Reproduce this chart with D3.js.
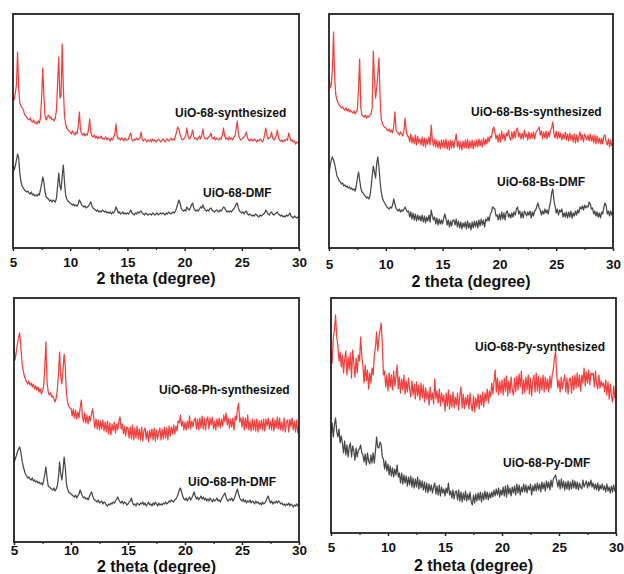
<!DOCTYPE html>
<html><head><meta charset="utf-8">
<script src="https://cdn.jsdelivr.net/npm/d3@7"></script>
<style>body{margin:0;background:#fff}svg{display:block}</style>
</head><body>
<svg id="chart" width="624" height="574"></svg>
<script>
// ---------- data (intensity, a.u., sampled every 0.1 degree from 5 to 30) ----------
const thetaStart = 5, thetaStep = 0.1;
const xTicks = [5, 10, 15, 20, 25, 30];
const xMinorTicks = [7.5, 12.5, 17.5, 22.5, 27.5];
const xTitle = "2 theta (degree)";

const uio68Syn = [
151,148,155,163,196,158,145,142,140,138,
134,132,131,129,128,130,127,126,128,125,
126,124,127,125,130,150,180,152,132,128,
131,133,130,131,128,129,127,130,138,165,
191,150,152,204,160,132,124,120,118,117,
116,114,117,115,113,116,114,122,136,118,
114,113,115,112,114,113,118,129,116,112,
111,113,110,112,109,111,110,112,109,110,
109,111,108,110,109,107,110,108,111,114,
124,112,109,110,108,110,109,107,110,108,
108,109,113,115,108,107,109,108,110,108,
109,110,116,108,107,109,108,106,108,107,
108,106,109,107,108,106,107,109,108,106,
107,109,108,106,108,109,107,108,110,108,
109,108,112,116,121,119,114,110,108,109,
110,112,120,112,109,110,113,118,111,109,
110,108,110,112,109,113,119,111,109,110,
109,111,112,115,110,109,111,108,110,109,
108,110,109,113,120,112,109,110,108,111,
109,110,108,111,112,118,127,114,110,108,
109,110,111,113,116,110,108,107,109,108,
107,109,108,106,108,107,109,108,106,108,
114,120,113,109,110,111,116,110,108,110,
112,118,111,108,107,108,106,108,107,109,
108,115,111,107,108,106,107,104,106,105,
105];
const uio68Dmf = [
83,78,82,88,94,90,74,66,62,60,
58,57,56,57,55,54,56,53,54,52,
53,52,54,53,58,64,71,66,56,51,
50,49,47,48,46,48,47,46,50,62,
75,62,58,72,83,66,53,49,47,46,
45,44,43,44,42,43,42,44,48,46,
43,42,41,42,40,41,42,44,46,42,
40,39,38,37,38,36,37,36,38,37,
36,37,35,36,35,36,34,36,35,37,
41,39,35,36,34,35,36,34,35,34,
35,34,36,38,35,34,33,35,34,36,
35,36,37,35,34,33,35,34,33,34,
34,33,35,34,33,34,35,33,34,35,
34,35,34,33,35,34,36,35,34,35,
36,35,37,40,44,48,45,40,38,37,
38,37,41,39,38,40,43,45,40,38,
37,38,37,39,41,40,43,40,38,37,
38,37,39,40,38,37,36,37,38,37,
36,38,37,39,41,40,38,36,37,36,
37,36,38,39,41,44,45,40,37,36,
35,36,34,36,37,34,33,34,33,32,
33,32,34,33,32,31,33,32,33,34,
35,38,36,34,33,35,36,34,33,34,
35,36,34,33,32,33,31,32,31,33,
32,33,35,32,31,30,32,31,30,31,
31];
const bsSyn = [
171,160,163,180,216,170,153,148,145,143,
142,140,141,139,138,140,137,139,136,138,
136,135,137,134,136,138,160,189,140,133,
132,131,133,130,132,131,133,134,140,197,
170,150,160,175,190,150,128,125,122,121,
120,118,117,119,116,118,115,122,136,118,
116,115,113,116,114,112,118,130,117,112,
112,106,114,105,111,104,113,103,112,105,
109,103,111,102,110,101,109,104,111,103,
123,108,102,109,101,108,100,107,99,108,
101,108,100,109,99,107,98,108,100,107,
100,108,114,101,107,99,106,98,107,100,
108,100,109,99,107,100,108,99,107,101,
108,101,109,102,108,101,110,103,109,104,
111,106,112,110,118,121,116,109,113,106,
114,106,117,109,114,107,115,112,118,110,
108,116,109,117,110,118,120,111,115,109,
115,109,118,111,114,108,116,109,115,110,
116,109,115,117,119,121,113,117,109,116,
110,117,109,116,111,118,120,126,114,110,
117,109,116,110,115,108,114,109,116,108,
114,107,115,108,113,106,114,105,113,106,
112,116,108,113,106,114,111,108,113,107,
114,107,112,105,113,104,112,105,110,104,
110,104,112,113,106,103,109,101,108,102,
105];
const bsDmf = [
75,82,88,91,88,84,78,72,70,67,
66,64,65,62,63,61,62,60,61,59,
60,58,59,57,62,70,76,68,60,56,
55,53,52,50,51,49,52,60,72,82,
76,70,85,91,80,66,56,50,47,45,
43,41,40,39,41,40,43,49,44,40,
38,37,39,36,38,37,39,41,38,36,
37,31,36,29,35,28,34,27,33,28,
32,27,33,26,32,25,31,27,33,26,
38,32,28,31,24,30,23,29,24,28,
24,30,34,29,23,28,21,27,22,28,
28,23,29,21,27,20,26,19,25,21,
26,19,27,20,25,18,26,20,27,21,
27,20,28,22,29,23,28,21,29,27,
31,27,34,36,41,40,39,32,33,28,
34,28,36,29,35,28,36,37,31,34,
30,35,31,36,33,39,41,34,37,30,
36,30,37,35,32,36,33,37,30,36,
32,37,38,42,45,40,38,33,37,34,
39,35,38,34,41,46,55,59,48,42,
35,39,33,38,36,39,31,35,31,36,
30,36,31,37,30,35,32,37,33,38,
35,41,39,42,38,43,40,42,41,46,
44,39,40,34,37,32,36,31,35,30,
36,34,41,45,42,34,37,32,37,33,
36];
const phSyn = [
195,182,190,198,205,209,195,180,172,166,
163,160,158,161,157,159,155,158,153,156,
152,155,150,153,148,151,156,175,200,160,
150,147,149,145,146,143,140,144,152,168,
190,165,158,172,188,175,148,140,136,134,
134,126,133,124,132,123,130,124,134,142,
126,120,129,119,127,118,126,121,128,133,
124,114,123,113,122,112,121,113,122,111,
120,110,121,108,119,107,118,111,120,109,
118,112,121,125,113,118,108,116,106,115,
114,104,115,103,117,102,114,104,116,103,
113,102,115,101,112,114,103,111,100,112,
104,113,102,114,101,112,103,110,114,102,
113,103,115,104,114,102,116,106,115,108,
117,108,116,111,121,119,127,116,121,112,
120,112,121,114,126,113,121,115,122,124,
113,123,112,124,114,126,113,124,112,122,
125,113,124,117,125,113,121,112,123,115,
124,114,123,116,127,120,129,117,124,114,
123,115,124,112,126,122,133,139,120,124,
115,125,112,124,114,127,112,121,111,123,
112,122,111,123,110,121,113,122,112,123,
111,123,116,124,113,121,112,124,111,122,
114,125,113,124,112,120,111,124,110,120,
122,110,123,115,124,112,121,110,122,109,
114];
const phDmf = [
79,83,86,90,93,95,90,82,76,72,
68,66,64,65,63,62,64,61,62,60,
61,59,60,58,59,57,61,68,75,64,
56,55,54,53,52,54,51,53,56,65,
80,68,62,72,85,74,58,53,50,49,
48,47,46,45,47,44,46,48,52,49,
46,44,45,43,44,42,45,48,50,46,
43,42,41,40,42,39,40,41,38,40,
39,37,36,38,37,39,38,40,39,41,
43,45,42,40,39,41,38,40,39,37,
38,40,41,44,39,37,38,36,39,38,
37,39,38,40,37,39,36,38,40,37,
38,36,39,37,40,38,36,39,37,38,
37,39,38,40,38,39,41,40,42,41,
40,42,43,45,48,52,54,50,46,43,
42,44,41,43,45,42,44,47,50,46,
43,45,42,44,46,43,45,42,44,41,
43,41,44,42,40,43,41,42,44,41,
42,40,43,45,47,49,45,42,41,43,
42,44,41,43,46,50,53,48,44,42,
41,43,40,42,39,41,40,42,39,41,
40,38,41,39,40,38,39,37,40,38,
39,41,44,46,42,39,41,38,40,39,
41,39,41,40,38,39,37,38,36,38,
37,39,36,38,37,35,37,36,38,36,
37];
const pySyn = [
182,170,195,203,218,196,188,172,181,166,
178,160,174,182,158,176,163,180,155,183,
170,156,175,160,178,172,196,176,168,150,
168,152,163,144,160,150,165,158,178,186,
201,182,194,203,210,190,158,162,146,158,
142,160,146,158,143,162,147,156,168,144,
156,140,154,143,158,139,152,141,155,144,
136,152,138,149,134,151,137,148,133,150,
135,148,131,145,134,142,128,146,133,140,
129,154,134,142,130,144,127,140,131,138,
122,140,127,143,124,138,126,141,125,136,
128,140,123,137,146,125,139,124,136,128,
138,124,140,127,122,137,121,135,126,139,
124,138,128,141,126,140,132,144,130,142,
136,150,139,152,163,141,155,138,152,140,
153,138,155,142,157,137,152,140,156,143,
138,155,141,157,143,159,146,162,139,153,
140,156,143,158,139,155,137,152,158,141,
160,142,157,140,155,143,158,141,156,144,
154,141,157,145,158,163,175,182,158,145,
153,141,156,144,152,158,141,155,139,153,
155,140,157,143,158,145,160,146,158,142,
158,150,165,147,161,150,163,148,160,158,
160,146,162,149,144,158,145,152,147,150,
141,153,138,151,134,149,137,131,147,135,
137];
const pyDmf = [
100,110,96,108,115,102,96,104,90,97,
90,80,92,78,88,76,86,90,76,87,
82,73,85,76,83,84,88,80,78,71,
79,68,80,72,69,78,70,80,70,82,
96,86,85,91,88,76,74,64,72,62,
69,58,67,57,65,56,64,58,68,56,
60,50,60,49,58,50,57,47,56,48,
57,46,55,45,54,46,56,44,53,45,
52,43,51,41,50,40,49,42,48,40,
46,50,39,47,38,48,37,46,40,44,
37,45,40,50,38,42,35,43,34,41,
42,33,43,32,41,31,40,33,42,32,
39,33,41,31,28,38,30,39,32,40,
33,41,31,40,33,42,34,41,33,40,
35,41,36,43,37,44,38,45,36,43,
38,46,37,47,36,48,39,45,37,46,
40,47,38,49,40,48,38,46,41,49,
41,48,40,47,43,49,38,47,42,49,
42,50,43,49,41,51,44,50,42,52,
45,51,43,53,46,54,56,58,52,46,
53,44,54,45,52,43,51,44,52,43,
51,44,53,45,52,44,51,43,50,46,
44,53,46,49,52,45,51,47,53,46,
50,44,49,43,50,42,48,44,49,43,
47,41,49,42,46,40,47,41,48,42,
41];

const synLabels = ["UiO-68-synthesized", "UiO-68-Bs-synthesized", "UiO-68-Ph-synthesized", "UiO-68-Py-synthesized"];
const dmfLabels = ["UiO-68-DMF", "UiO-68-Bs-DMF", "UiO-68-Ph-DMF", "UiO-68-Py-DMF"];
const synSeries = [uio68Syn, bsSyn, phSyn, pySyn];
const dmfSeries = [uio68Dmf, bsDmf, phDmf, pyDmf];
const yMaxes = [234, 234, 244, 235];

// ---------- layout ----------
const layout = [
  {l:13,  t:14,  r:299, b:248, syn:[175,113], dmf:[203,193], labTop:257.5, titleY:284},
  {l:329, t:14,  r:613, b:248, syn:[471,112], dmf:[497,182], labTop:259,   titleY:287},
  {l:14,  t:298, r:299, b:542, syn:[159,390], dmf:[188,482], labTop:545,   titleY:572},
  {l:331, t:298, r:616, b:533, syn:[475,347], dmf:[503,463], labTop:542,   titleY:571}
];
const RED = "#f2403f", GREY = "#474747";
const FONT = "Arial, 'Liberation Sans', Helvetica, sans-serif";

const svg = d3.select("#chart");

layout.forEach((L, i) => {
  const g = svg.append("g");
  const x = d3.scaleLinear().domain([5, 30]).range([L.l, L.r]);
  const y = d3.scaleLinear().domain([0, yMaxes[i]]).range([L.b, L.t]);
  const line = d3.line()
    .x((d, k) => x(thetaStart + k * thetaStep))
    .y(d => y(d));

  g.append("path").datum(synSeries[i]).attr("d", line)
    .attr("fill", "none").attr("stroke", RED).attr("stroke-width", 1.25).attr("stroke-linejoin", "round");
  g.append("path").datum(dmfSeries[i]).attr("d", line)
    .attr("fill", "none").attr("stroke", GREY).attr("stroke-width", 1.25).attr("stroke-linejoin", "round");

  // frame
  g.append("rect").attr("x", L.l).attr("y", L.t).attr("width", L.r - L.l).attr("height", L.b - L.t)
    .attr("fill", "none").attr("stroke", "#222").attr("stroke-width", 1.8);

  // axes
  const tickSize = 3;
  const ax = g.append("g").attr("transform", `translate(0,${L.b})`)
    .call(d3.axisBottom(x).tickValues(xTicks).tickSize(tickSize)
      .tickPadding(L.labTop - L.b - tickSize).tickFormat(d3.format("d")));
  ax.select(".domain").remove();
  ax.selectAll("line").attr("stroke", "#222").attr("stroke-width", 1.5);
  ax.selectAll("text").attr("font-family", FONT).attr("font-weight", "bold")
    .attr("font-size", 13.5).attr("fill", "#111");

  const mx = g.append("g").attr("transform", `translate(0,${L.b})`)
    .call(d3.axisBottom(x).tickValues(xMinorTicks).tickSize(2).tickFormat(""));
  mx.select(".domain").remove();
  mx.selectAll("line").attr("stroke", "#222").attr("stroke-width", 1.2);

  g.append("text").attr("x", (L.l + L.r) / 2).attr("y", L.titleY)
    .attr("text-anchor", "middle").attr("font-family", FONT).attr("font-weight", "bold")
    .attr("font-size", 16).attr("fill", "#111").text(xTitle);

  g.append("text").attr("x", L.syn[0]).attr("y", L.syn[1] + 4.3)
    .attr("font-family", FONT).attr("font-weight", "bold").attr("font-size", 12)
    .attr("fill", "#111").text(synLabels[i]);
  g.append("text").attr("x", L.dmf[0]).attr("y", L.dmf[1] + 4.3)
    .attr("font-family", FONT).attr("font-weight", "bold").attr("font-size", 12)
    .attr("fill", "#111").text(dmfLabels[i]);
});
</script>
</body></html>
